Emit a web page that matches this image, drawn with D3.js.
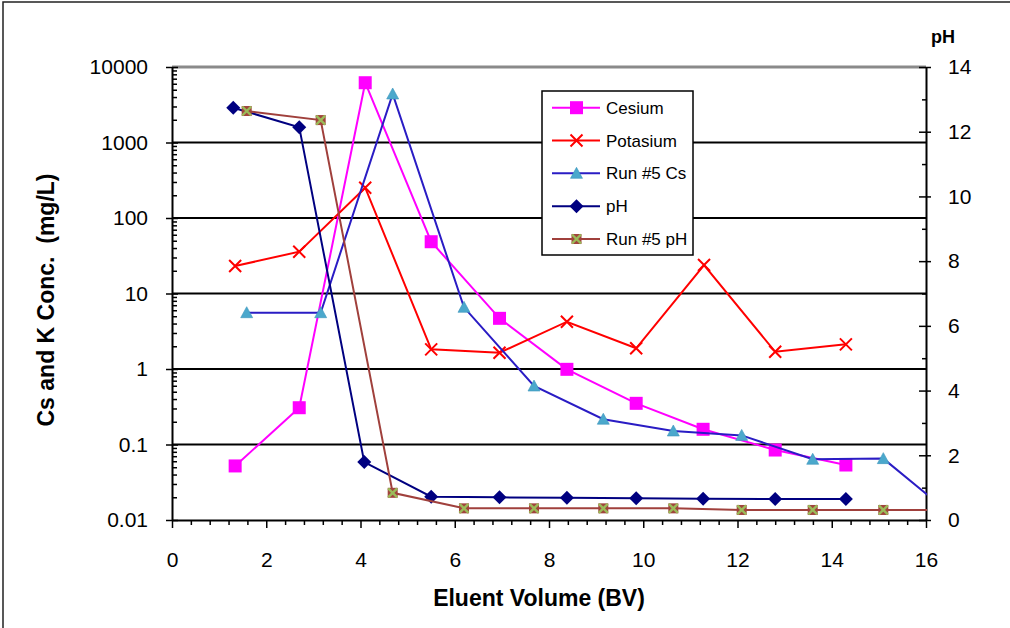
<!DOCTYPE html>
<html><head><meta charset="utf-8">
<script src="https://cdn.jsdelivr.net/npm/d3@7"></script>
<style>
body{margin:0;background:#fff}
svg{display:block}
text{font-family:"Liberation Sans",Arial,sans-serif;fill:#000}
</style>
</head><body>
<svg id="c" width="1010" height="628"></svg>
<script>
// ---- data ----
const seriesNames = ["Cesium", "Potasium", "Run #5 Cs", "pH", "Run #5 pH"];
const cesiumX = [1.34, 2.70, 4.10, 5.50, 6.95, 8.38, 9.85, 11.27, 12.80, 14.30];
const cesiumY = [0.052, 0.307, 6190, 48.5, 4.69, 0.99, 0.351, 0.159, 0.0845, 0.0535];
const potasiumX = [1.34, 2.70, 4.10, 5.50, 6.95, 8.38, 9.85, 11.29, 12.80, 14.30];
const potasiumY = [23.1, 35.8, 252, 1.82, 1.64, 4.23, 1.88, 23.8, 1.69, 2.12];
const run5X = [1.585, 3.155, 4.683, 6.196, 7.682, 9.152, 10.638, 12.089, 13.596, 15.094, 16.6];
const run5CsY = [5.57, 5.57, 4390, 6.56, 0.595, 0.216, 0.151, 0.132, 0.0637, 0.065, 0.011];
const phX = [1.30, 2.70, 4.08, 5.50, 6.95, 8.38, 9.85, 11.27, 12.80, 14.30];
const phY = [12.74, 12.14, 1.79, 0.72, 0.70, 0.69, 0.67, 0.66, 0.65, 0.65];
const run5PhY = [12.64, 12.36, 0.84, 0.36, 0.36, 0.36, 0.36, 0.31, 0.31, 0.31, 0.31];
const xTicks = [0, 2, 4, 6, 8, 10, 12, 14, 16];
const yLeftTicks = [0.01, 0.1, 1, 10, 100, 1000, 10000];
const yLeftTickLabels = ["0.01", "0.1", "1", "10", "100", "1000", "10000"];
const yRightTicks = [0, 2, 4, 6, 8, 10, 12, 14];

// ---- layout ----
const svg = d3.select("#c");
const L = 172, R = 926, T = 67, B = 520;
const x = d3.scaleLinear().domain([0, 16]).range([L, R]);
const yL = d3.scaleLog().domain([0.01, 10000]).range([B, T]);
const yR = d3.scaleLinear().domain([0, 14]).range([B, T]);

// outer frame
svg.append("rect").attr("x", 3).attr("y", 2).attr("width", 1020).attr("height", 640)
  .attr("fill", "none").attr("stroke", "#222").attr("stroke-width", 1.5);

// gridlines
const gridVals = [0.1, 1, 10, 100, 1000];
svg.append("g").selectAll("line").data(gridVals).join("line")
  .attr("x1", L).attr("x2", R).attr("y1", d => yL(d)).attr("y2", d => yL(d))
  .attr("stroke", "#000").attr("stroke-width", 2);
// top plot border
svg.append("line").attr("x1", L).attr("x2", R).attr("y1", yL(10000)).attr("y2", yL(10000))
  .attr("stroke", "#8a8a8a").attr("stroke-width", 3);

function styleAxis(g) {
  g.selectAll("path.domain").attr("stroke", "#000").attr("stroke-width", 2);
  g.selectAll(".tick line").attr("stroke", "#000").attr("stroke-width", 1.5);
  g.selectAll("text").attr("font-size", 21).attr("font-family", '"Liberation Sans",Arial,sans-serif').attr("fill", "#000");
}

// left axis
const leftMinor = yL.ticks().filter(v => !yLeftTicks.some(t => Math.abs(t - v) / t < 1e-6));
svg.append("g").attr("transform", `translate(${L},0)`)
  .call(d3.axisRight(yL).tickValues(leftMinor).tickSize(5).tickSizeOuter(0).tickFormat(""))
  .call(styleAxis).call(g => g.select(".domain").remove());
svg.append("g").attr("transform", `translate(${L},0)`)
  .call(d3.axisRight(yL).tickValues(yLeftTicks).tickSize(6).tickSizeOuter(0).tickFormat(""))
  .call(styleAxis).call(g => g.select(".domain").remove());
svg.append("g").attr("transform", `translate(${L},0)`)
  .call(d3.axisLeft(yL).tickValues(yLeftTicks).tickSize(6).tickSizeOuter(0).tickPadding(18)
    .tickFormat((d, i) => yLeftTickLabels[i]))
  .call(styleAxis);

// right axis
const rightMinor = [1, 3, 5, 7, 9, 11, 13];
svg.append("g").attr("transform", `translate(${R},0)`)
  .call(d3.axisLeft(yR).tickValues(rightMinor).tickSize(4).tickSizeOuter(0).tickFormat(""))
  .call(styleAxis).call(g => g.select(".domain").remove());
svg.append("g").attr("transform", `translate(${R},0)`)
  .call(d3.axisLeft(yR).tickValues(yRightTicks).tickSize(7).tickSizeOuter(0).tickFormat(""))
  .call(styleAxis).call(g => g.select(".domain").remove());
svg.append("g").attr("transform", `translate(${R},0)`)
  .call(d3.axisRight(yR).tickValues(yRightTicks).tickSize(5).tickSizeOuter(0).tickPadding(17))
  .call(styleAxis);

// bottom axis
const xMinor = d3.range(0, 80).map(i => i * 0.4).filter(v => v <= 16.001 && Math.abs(v / 2 - Math.round(v / 2)) > 1e-6);
svg.append("g").attr("transform", `translate(0,${B})`)
  .call(d3.axisBottom(x).tickValues(xMinor).tickSize(5).tickSizeOuter(0).tickFormat(""))
  .call(styleAxis).call(g => g.select(".domain").remove());
svg.append("g").attr("transform", `translate(0,${B})`)
  .call(d3.axisBottom(x).tickValues(xTicks).tickSize(8).tickSizeOuter(0).tickPadding(24).tickFormat(d3.format("d")))
  .call(styleAxis);

// axis titles
svg.append("text").attr("x", 539).attr("y", 606).attr("text-anchor", "middle")
  .attr("font-size", 23).attr("font-weight", "bold").text("Eluent Volume (BV)");
svg.append("text").attr("transform", "translate(54,300) rotate(-90)").attr("text-anchor", "middle")
  .attr("font-size", 23).attr("font-weight", "bold").attr("xml:space", "preserve").text("Cs and K Conc.  (mg/L)");
svg.append("text").attr("x", 943).attr("y", 43).attr("text-anchor", "middle")
  .attr("font-size", 18).attr("font-weight", "bold").text("pH");

// ---- series ----
const clip = svg.append("clipPath").attr("id", "plotclip");
clip.append("rect").attr("x", L).attr("y", 0).attr("width", R - L + 1).attr("height", B + 10);

function drawMarker(g, type) {
  if (type === "square") {
    g.append("rect").attr("x", -6.5).attr("y", -6.5).attr("width", 13).attr("height", 13).attr("fill", "#FF00FF");
  } else if (type === "cross") {
    g.append("path").attr("d", "M-6,-6L6,6M-6,6L6,-6").attr("stroke", "#FF0000").attr("stroke-width", 2).attr("fill", "none");
  } else if (type === "triangle") {
    g.append("path").attr("d", "M0,-6L6,5L-6,5Z").attr("fill", "#4BA8CC").attr("stroke", "#3C95BC").attr("stroke-width", 0.6);
  } else if (type === "diamond") {
    g.append("path").attr("d", "M0,-7L7,0L0,7L-7,0Z").attr("fill", "#000080");
  } else if (type === "xsquare") {
    g.append("rect").attr("x", -5).attr("y", -5).attr("width", 10).attr("height", 10).attr("fill", "#A0453C");
    g.append("path").attr("d", "M-4.5,-4.5L4.5,4.5M-4.5,4.5L4.5,-4.5").attr("stroke", "#9BBB59").attr("stroke-width", 2.4);
  }
}

const series = [
  { name: seriesNames[0], xs: cesiumX, ys: cesiumY, sc: yL, color: "#FF00FF", marker: "square" },
  { name: seriesNames[1], xs: potasiumX, ys: potasiumY, sc: yL, color: "#FF0000", marker: "cross" },
  { name: seriesNames[2], xs: run5X, ys: run5CsY, sc: yL, color: "#2A1CC4", marker: "triangle" },
  { name: seriesNames[3], xs: phX, ys: phY, sc: yR, color: "#000080", marker: "diamond" },
  { name: seriesNames[4], xs: run5X, ys: run5PhY, sc: yR, color: "#A0403C", marker: "xsquare" }
];

const plot = svg.append("g").attr("clip-path", "url(#plotclip)");
series.forEach(s => {
  const pts = s.xs.map((v, i) => [v, s.ys[i]]);
  const line = d3.line().x(d => x(d[0])).y(d => s.sc(d[1]));
  plot.append("path").attr("d", line(pts)).attr("fill", "none").attr("stroke", s.color).attr("stroke-width", 2);
  pts.forEach(p => {
    const g = plot.append("g").attr("transform", `translate(${x(p[0])},${s.sc(p[1])})`);
    drawMarker(g, s.marker);
  });
});

// ---- legend ----
const lg = svg.append("g");
lg.append("rect").attr("x", 542).attr("y", 91).attr("width", 151).attr("height", 164)
  .attr("fill", "#fff").attr("stroke", "#000").attr("stroke-width", 1.5);
const legY = d3.scalePoint().domain(seriesNames).range([107.7, 239]);
series.forEach(s => {
  const yy = legY(s.name);
  lg.append("line").attr("x1", 552).attr("x2", 600).attr("y1", yy).attr("y2", yy)
    .attr("stroke", s.color).attr("stroke-width", 2);
  const g = lg.append("g").attr("transform", `translate(576.5,${yy})`);
  drawMarker(g, s.marker);
  lg.append("text").attr("x", 606).attr("y", yy + 6).attr("font-size", 17).text(s.name);
});
</script>
</body></html>
